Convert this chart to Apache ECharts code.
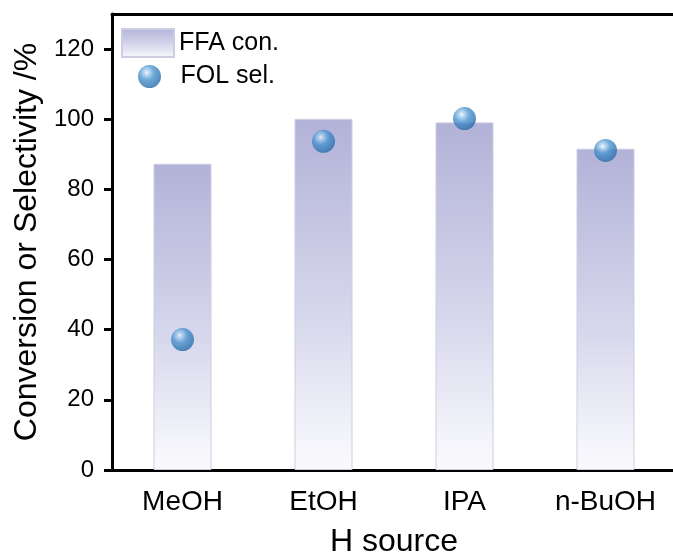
<!DOCTYPE html>
<html>
<head>
<meta charset="utf-8">
<script src="https://cdn.jsdelivr.net/npm/echarts@6/dist/echarts.min.js"></script>
<style>
html,body{margin:0;padding:0;background:#fff;}
#chart{width:673px;height:556px;}
</style>
</head>
<body>
<div id="chart"></div>
<script>
var categories = ['MeOH', 'EtOH', 'IPA', 'n-BuOH'];
var ffaConversion = [87.3, 100.1, 99.1, 91.6];
var folSelectivity = [37.2, 93.7, 100.2, 91.1];
var yTicks = [0, 20, 40, 60, 80, 100, 120];

var FONT = 'Liberation Sans, Arial, sans-serif';
var chart = echarts.init(document.getElementById('chart'));

var barGradient = new echarts.graphic.LinearGradient(0, 0, 0, 1, [
  {offset: 0, color: '#b2b2d8'},
  {offset: 0.55, color: '#d6d6ec'},
  {offset: 1, color: '#fbfbfe'}
]);
var ballGradient = new echarts.graphic.RadialGradient(0.38, 0.32, 0.72, [
  {offset: 0, color: '#f2f8fd'},
  {offset: 0.12, color: '#b6d6f0'},
  {offset: 0.45, color: '#4a94d0'},
  {offset: 1, color: '#2768a4'}
]);

var option = {
  backgroundColor: '#fff',
  animation: false,
  grid: {left: 112, right: -3, top: 14, bottom: 86, containLabel: false, outerBoundsMode: 'none'},
  legend: [
    {
      data: [{name: 'FFA con.', icon: 'rect'}],
      left: 121, top: 28, orient: 'vertical', padding: 0,
      itemWidth: 52, itemHeight: 28, itemGap: 8,
      textStyle: {fontFamily: FONT, fontSize: 25, color: '#000'}
    },
    {
      data: [{name: 'FOL sel.', icon: 'circle'}],
      left: 138, top: 64, orient: 'vertical', padding: 0,
      itemWidth: 52, itemHeight: 23,
      textStyle: {fontFamily: FONT, fontSize: 25, color: '#000'}
    }
  ],
  xAxis: [
    {
      type: 'category',
      data: categories,
      position: 'bottom',
      name: 'H source',
      nameLocation: 'middle',
      nameGap: 56,
      nameTextStyle: {fontFamily: FONT, fontSize: 32, color: '#000'},
      axisLine: {lineStyle: {color: '#000', width: 3}},
      axisTick: {alignWithLabel: true, length: 7, lineStyle: {color: '#000', width: 3}},
      axisLabel: {fontFamily: FONT, fontSize: 28, color: '#000', margin: 18},
      splitLine: {show: false}
    },
    {
      type: 'category',
      data: categories,
      position: 'top',
      axisLine: {show: true, lineStyle: {color: '#000', width: 3}},
      axisTick: {show: false},
      axisLabel: {show: false},
      splitLine: {show: false}
    }
  ],
  yAxis: {
    type: 'value',
    min: 0,
    max: 130,
    interval: 20,
    name: 'Conversion or Selectivity /%',
    nameLocation: 'middle',
    nameGap: 67,
    nameTextStyle: {fontFamily: FONT, fontSize: 32, color: '#000'},
    axisLine: {show: true, lineStyle: {color: '#000', width: 3}},
    axisTick: {show: true, length: 8, lineStyle: {color: '#000', width: 3}},
    axisLabel: {
      fontFamily: FONT, fontSize: 24, color: '#000', margin: 18, showMaxLabel: false,
      formatter: function (v) { return yTicks.indexOf(v) >= 0 ? String(v) : ''; }
    },
    splitLine: {show: false}
  },
  series: [
    {
      name: 'FFA con.',
      type: 'bar',
      data: ffaConversion,
      barWidth: 58,
      itemStyle: {color: barGradient, borderColor: '#cdcde2', borderWidth: 1}
    },
    {
      name: 'FOL sel.',
      type: 'scatter',
      data: folSelectivity,
      symbol: 'circle',
      symbolSize: 23,
      z: 5,
      itemStyle: {color: ballGradient}
    }
  ]
};
chart.setOption(option);
</script>
</body>
</html>
